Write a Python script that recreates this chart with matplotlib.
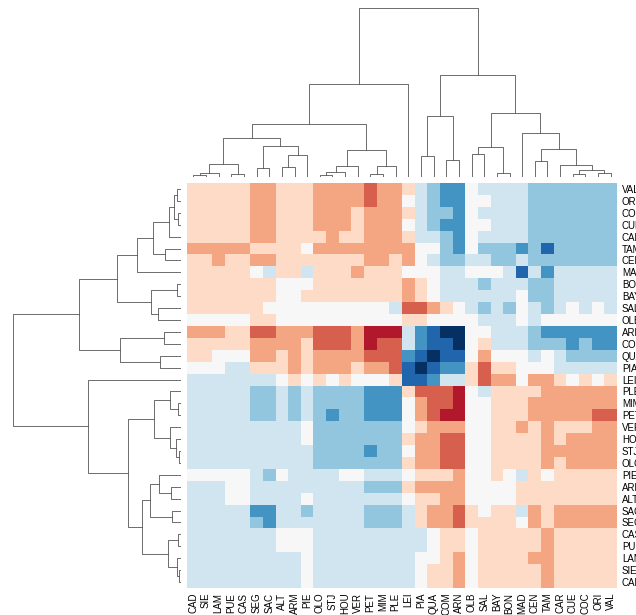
import numpy as np
import matplotlib
matplotlib.use("Agg")
import matplotlib.pyplot as plt
from matplotlib.colors import ListedColormap, BoundaryNorm
from matplotlib.collections import LineCollection

plt.rcParams['font.family'] = ['Liberation Sans', 'DejaVu Sans']

# leaf order of the clustering (columns left->right, rows bottom->top)
names = ["CAD", "SIE", "LAM", "PUE", "CAS", "SEG", "SAC", "ALT", "ARM", "PIE",
         "OLO", "STJ", "HOU", "VER", "PET", "MIM", "PLE", "LEI", "PIA", "QUA",
         "COM", "ARN", "OLB", "SAL", "BAY", "BON", "MAD", "CEN", "TAM", "CAR",
         "CUE", "COC", "ORI", "VAL"]
row_names = names[::-1]

# binned values, one row per site (top row = VAL)
levels = [
    [1, 1, 1, 1, 1, 2, 2, 1, 1, 1, 2, 2, 2, 2, 3, 2, 2, 1, -1, -2, -3, -3, 0, -1, -1, -1, -1, -2, -2, -2, -2, -2, -2, -2],
    [1, 1, 1, 1, 1, 2, 2, 1, 1, 1, 2, 2, 2, 2, 3, 2, 2, 0, -1, -2, -3, -3, 0, 0, -1, -1, -1, -2, -2, -2, -2, -2, -2, -2],
    [1, 1, 1, 1, 1, 2, 2, 1, 1, 1, 2, 2, 2, 1, 2, 2, 2, 1, -1, -2, -2, -3, 0, -1, -1, -1, -1, -2, -2, -2, -2, -2, -2, -2],
    [1, 1, 1, 1, 1, 2, 2, 1, 1, 1, 2, 2, 2, 1, 2, 2, 2, 0, -1, -2, -3, -3, 0, 0, -1, -1, -1, -2, -2, -2, -2, -2, -2, -2],
    [1, 1, 1, 1, 1, 2, 2, 1, 1, 1, 1, 2, 1, 1, 2, 2, 2, 1, -1, -1, -2, -3, 0, -1, -1, -1, -1, -2, -2, -2, -2, -2, -2, -2],
    [2, 2, 2, 2, 2, 1, 1, 1, 1, 0, 2, 2, 2, 2, 2, 2, 2, 2, 0, 0, -2, -3, 0, -2, -2, -2, -3, -2, -4, -2, -2, -2, -2, -2],
    [1, 1, 2, 1, 1, 2, 2, 1, 1, 1, 1, 1, 1, 1, 2, 2, 1, 2, 0, -1, -2, -2, -1, -1, -2, -2, -1, -2, -2, -2, -2, -2, -2, -2],
    [1, 1, 1, 1, 1, 0, -1, 1, 1, -1, 1, 1, 1, 2, 1, 1, 1, 0, 0, 0, -1, -1, 0, 0, 0, -1, -4, -1, -3, -1, -1, -1, -1, -1],
    [1, 1, 1, 1, 1, 1, 1, 0, 0, 0, 1, 1, 1, 1, 1, 1, 1, 2, 1, 0, -1, -1, -1, -2, -1, -1, -1, -2, -2, -1, -1, -1, -1, -1],
    [1, 1, 1, 1, 1, 1, 1, 0, 0, 1, 1, 1, 1, 1, 1, 1, 1, 2, 1, 0, -1, -1, -1, -1, -1, -1, 0, -2, -2, -1, -1, -1, -1, -1],
    [1, 1, 1, 1, 1, 1, 0, 0, 0, 0, 0, 0, 0, 0, 0, 0, -1, 3, 3, 2, 1, 0, -1, -2, -1, -2, 0, -1, -2, -1, 0, -1, 0, -1],
    [0, 0, 0, 0, 0, 1, 1, 0, 0, 0, 0, 0, 0, 0, 0, 0, 0, 1, 1, 0, 0, 0, 0, -1, -1, -1, 0, -1, 0, 0, 0, 0, 0, 0],
    [2, 2, 2, 1, 1, 3, 3, 2, 2, 2, 3, 3, 3, 2, 4, 4, 4, -1, -3, -4, -5, -5, 0, 0, -1, -1, -1, -2, -3, -3, -3, -3, -3, -3],
    [1, 1, 1, 1, 1, 2, 2, 2, 2, 1, 3, 3, 3, 2, 4, 3, 3, -1, -3, -4, -4, -5, 0, 1, -1, -1, -1, -2, -2, -2, -3, -2, -3, -3],
    [1, 1, 0, 0, 0, 2, 2, 1, 2, 1, 2, 2, 2, 2, 3, 3, 3, -3, -4, -5, -4, -4, 0, 2, 0, 0, 0, -1, 0, -1, -2, -2, -2, -2],
    [0, 0, 0, -1, -1, 1, 1, 1, 2, 1, 2, 2, 2, 1, 2, 2, 3, -4, -5, -4, -3, -3, 1, 3, 1, 1, 0, 0, 0, -1, -1, -1, -1, -1],
    [-1, -1, -1, -1, -1, -1, -1, 0, 1, 0, 1, 0, 1, 0, 0, 0, 1, -4, -4, -3, -1, -1, 1, 3, 2, 2, 0, 2, 2, 1, 0, 1, 0, 1],
    [-1, -1, -1, -1, -1, -2, -2, -1, -2, -1, -2, -2, -2, -2, -3, -3, -3, 1, 3, 3, 3, 4, 0, -1, 1, 1, 1, 1, 2, 2, 2, 2, 2, 2],
    [-1, -1, -1, -1, -1, -2, -2, -1, -2, -1, -2, -2, -2, -2, -3, -3, -3, 0, 2, 3, 3, 4, 0, 0, 1, 1, 1, 2, 2, 2, 2, 2, 2, 2],
    [-1, -1, -1, -1, -1, -2, -2, -1, -2, -1, -2, -3, -2, -2, -3, -3, -3, 0, 2, 3, 4, 4, 0, 0, 1, 1, 1, 2, 2, 2, 2, 2, 3, 3],
    [-1, -1, -1, -1, -1, -1, -1, -1, -1, 0, -2, -2, -2, -2, -2, -2, -2, 0, 1, 2, 2, 2, 0, 0, 1, 1, 2, 1, 2, 1, 1, 1, 2, 2],
    [-1, -1, -1, -1, -1, -1, -1, -1, -1, 0, -2, -2, -2, -2, -2, -2, -2, 1, 2, 2, 3, 3, 0, 0, 1, 1, 1, 1, 2, 1, 2, 2, 2, 2],
    [-1, -1, -1, -1, -1, -1, -1, -1, -1, -1, -2, -2, -2, -2, -3, -2, -2, 0, 2, 2, 3, 3, 0, 0, 1, 1, 1, 1, 2, 2, 2, 2, 2, 2],
    [-1, -1, -1, -1, -1, -1, -1, -1, -1, -1, -2, -2, -2, -2, -2, -2, -2, 1, 2, 2, 3, 3, 0, 0, 1, 1, 1, 1, 2, 1, 2, 2, 2, 2],
    [0, 0, 0, 0, 0, -1, -2, 0, -1, -1, -1, -1, 0, 0, -1, -1, -1, 0, 1, 1, 1, 2, 0, 0, 1, 0, -1, 1, 0, 1, 1, 1, 1, 1],
    [-1, -1, -1, 0, 0, -1, -1, -1, -1, -1, -1, -1, -1, -1, -2, -2, -2, 1, 2, 2, 2, 2, 0, 0, 0, 0, 1, 1, 1, 1, 1, 1, 1, 1],
    [-1, -1, -1, 0, 0, -1, -1, -1, -1, 0, -1, -1, -1, -1, -1, -1, -1, 0, 1, 1, 2, 2, 0, 0, 0, 0, 1, 1, 1, 1, 1, 1, 1, 1],
    [-1, -1, -1, -1, -1, -3, -3, -1, -1, -2, -1, -1, -1, -1, -2, -2, -2, -1, 1, 2, 2, 3, 1, 0, 1, 1, -1, 2, 1, 2, 2, 2, 2, 2],
    [-1, -1, -1, -1, -1, -2, -3, -1, -1, -1, -1, -1, -1, -1, -2, -2, -2, -1, 1, 2, 2, 3, 1, 1, 1, 1, 0, 2, 1, 2, 2, 2, 2, 2],
    [-1, -1, -1, -1, -1, -1, -1, 0, 0, 0, -1, -1, -1, -1, -1, -1, -1, -1, -1, 0, 1, 1, 0, 1, 1, 1, 1, 1, 2, 1, 1, 1, 1, 1],
    [-1, -1, -1, -1, -1, -1, -1, 0, 0, 0, -1, -1, -1, -1, -1, -1, -1, -1, -1, 0, 1, 1, 0, 1, 1, 1, 1, 1, 2, 1, 1, 1, 1, 1],
    [-1, -1, -1, -1, -1, -1, -1, -1, -1, 0, -1, -1, -1, -1, -1, -1, -1, -1, 0, 0, 1, 2, 0, 1, 1, 1, 1, 2, 2, 1, 1, 1, 1, 1],
    [-1, -1, -1, -1, -1, -1, -1, -1, -1, 0, -1, -1, -1, -1, -1, -1, -1, -1, 0, 1, 1, 2, 0, 1, 1, 1, 1, 1, 2, 1, 1, 1, 1, 1],
    [-1, -1, -1, -1, -1, -1, -1, -1, -1, 0, -1, -1, -1, -1, -1, -1, -1, -1, 0, 1, 1, 2, 0, 1, 1, 1, 1, 1, 2, 1, 1, 1, 1, 1],
]

# merges: (left, right, height); ints point back to earlier merges
merges = [
    ("CAD", "SIE", 0.10), (0, "LAM", 0.24), ("PUE", "CAS", 0.16), (1, 2, 0.79),
    ("SEG", "SAC", 0.55), ("ALT", "ARM", 0.59), (5, "PIE", 1.33), (4, 6, 1.82),
    (3, 7, 2.32), ("OLO", "STJ", 0.12), (9, "HOU", 0.28), (10, "VER", 0.65),
    ("PET", "MIM", 0.16), (12, "PLE", 0.63), (11, 13, 1.62), (8, 14, 3.17),
    (15, "LEI", 5.54), ("PIA", "QUA", 1.25), ("COM", "ARN", 0.99), (17, 18, 3.60),
    ("OLB", "SAL", 1.39), ("BAY", "BON", 0.24), (20, 21, 1.78), ("CEN", "TAM", 0.95),
    ("CUE", "COC", 0.20), ("ORI", "VAL", 0.26), (24, 25, 0.40), ("CAR", 26, 0.73),
    (23, 27, 1.68), ("MAD", 28, 2.63), (22, 29, 3.80), (19, 30, 6.04),
    (16, 31, 10.0),
]

palette = ["#053061", "#2166ac", "#4393c3", "#92c5de", "#d1e5f0", "#f7f7f7",
           "#fddbc7", "#f4a582", "#d6604d", "#b2182b", "#67001f"]


def tree_segments(merges, leaf_pos):
    pos = {}
    segs = []

    def coord(ref):
        if isinstance(ref, str):
            return leaf_pos[ref], 0.0
        return pos[ref]

    for i, (a, b, h) in enumerate(merges):
        xa, ha = coord(a)
        xb, hb = coord(b)
        segs.append([(xa, ha), (xa, h), (xb, h), (xb, hb)])
        pos[i] = ((xa + xb) / 2.0, h)
    return segs


n = len(names)
leaf_pos = {name: 5 + 10 * i for i, name in enumerate(names)}
segs = tree_segments(merges, leaf_pos)
top = max(h for _, _, h in merges) * 1.05

W, H = 636, 615
fig = plt.figure(figsize=(W / 100, H / 100), dpi=100)

ax_heat = fig.add_axes([187 / W, 27 / H, 430 / W, 405 / H])
ax_col = fig.add_axes([187 / W, 438 / H, 430 / W, 177 / H])
ax_row = fig.add_axes([4.3 / W, 27 / H, 176.7 / W, 405 / H])

cmap = ListedColormap(palette)
norm = BoundaryNorm(np.arange(-5.5, 6.5, 1), cmap.N)
data = np.array(levels)
ax_heat.pcolormesh(np.arange(n + 1), np.arange(n + 1), data, cmap=cmap, norm=norm)
ax_heat.set_xlim(0, n)
ax_heat.set_ylim(n, 0)
ax_heat.set_xticks(np.arange(n) + 0.5)
ax_heat.set_xticklabels(names, rotation=90, fontsize=7)
ax_heat.yaxis.tick_right()
ax_heat.set_yticks(np.arange(n) + 0.5)
ax_heat.set_yticklabels(row_names, rotation=0, fontsize=7)
ax_heat.tick_params(length=0)
for s in ax_heat.spines.values():
    s.set_visible(False)

# column tree
ax_col.add_collection(LineCollection(segs, linewidths=0.5, colors=[(.2, .2, .2)]))
ax_col.set_xlim(0, 10 * n)
ax_col.set_ylim(0, top)

# row tree, same clustering turned sideways
row_segs = [[(h, x) for x, h in seg] for seg in segs]
ax_row.add_collection(LineCollection(row_segs, linewidths=0.5, colors=[(.2, .2, .2)]))
ax_row.set_ylim(0, 10 * n)
ax_row.set_xlim(top, 0)

for ax in (ax_col, ax_row):
    ax.set_xticks([])
    ax.set_yticks([])
    for s in ax.spines.values():
        s.set_visible(False)

fig.savefig("out.png", dpi=100)
